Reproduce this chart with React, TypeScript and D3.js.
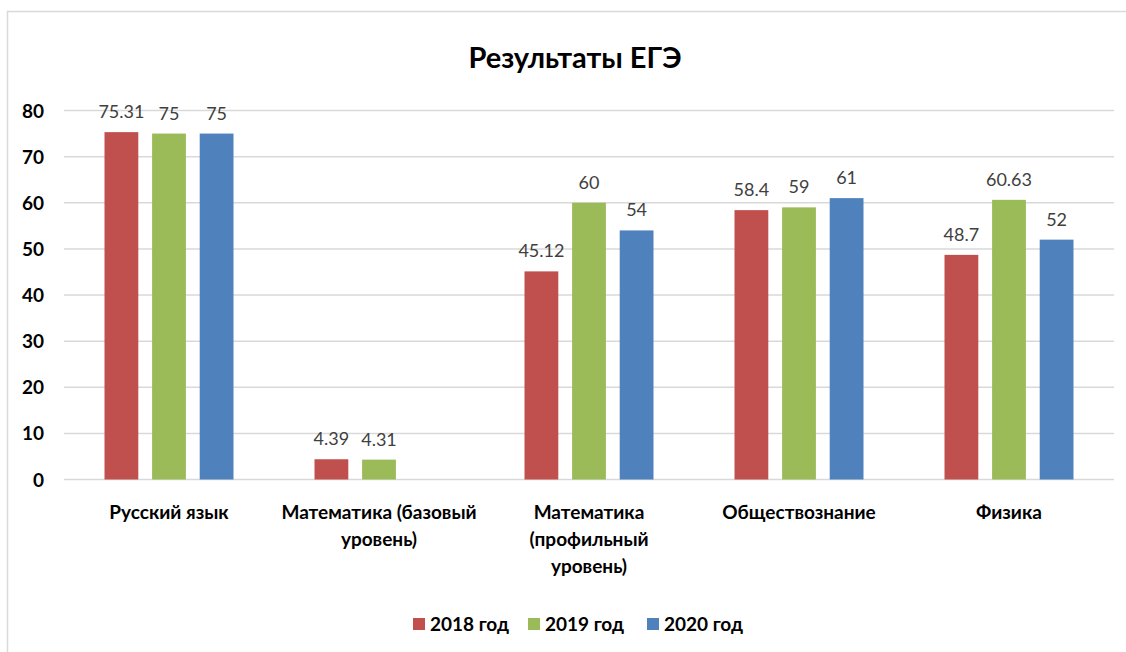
import React from "react";
import * as d3 from "d3";

const categories = [
  ["Русский язык"],
  ["Математика (базовый", "уровень)"],
  ["Математика", "(профильный", "уровень)"],
  ["Обществознание"],
  ["Физика"],
];
const series = ["2018 год", "2019 год", "2020 год"];
const colors = ["#C0504D", "#9BBB59", "#4F81BD"];
const values2018 = [75.31, 4.39, 45.12, 58.4, 48.7];
const values2019 = [75, 4.31, 60, 59, 60.63];
const values2020: (number | null)[] = [75, null, 54, 61, 52];
const yTicks = [0, 10, 20, 30, 40, 50, 60, 70, 80];

const W = 1126;
const H = 652;
const font = "Lato, 'Open Sans', sans-serif";

export default function App() {
  const left = 64, right = 1114, top = 110.5, bottom = 479.5;
  const y = d3.scaleLinear().domain([0, 80]).range([bottom, top]);
  const x0 = d3.scaleBand<number>().domain(d3.range(categories.length)).range([left, right]).paddingInner(0).paddingOuter(0);
  const groupW = 129;
  const x1 = d3.scaleBand<number>().domain([0, 1, 2]).range([0, groupW]).paddingInner(0.29);
  const all = [values2018, values2019, values2020];
  return (
    <svg width={W} height={H} style={{ position: "absolute", left: 0, top: 0 }}>
      <rect x={0} y={0} width={W} height={H} fill="#fff" />
      <path d={`M7.5,${H} V11.5 H${W}`} fill="none" stroke="#d9d9d9" strokeWidth={1.5} />
      <text x={575} y={68} textAnchor="middle" fontFamily={font} fontWeight="bold" fontSize={29} fill="#000">Результаты ЕГЭ</text>
      {yTicks.map((t) => (
        <g key={t}>
          <line x1={left} x2={right} y1={y(t)} y2={y(t)} stroke="#d9d9d9" strokeWidth={1.5} />
          <text x={44} y={y(t) + 7} textAnchor="end" fontFamily={font} fontWeight="bold" fontSize={19} fill="#000">{t}</text>
        </g>
      ))}
      {categories.map((c, i) => {
        const gx = (x0(i) as number) + (x0.bandwidth() - groupW) / 2;
        return (
          <g key={i}>
            {all.map((vals, s) => {
              const v = vals[i];
              if (v == null) return null;
              const bx = gx + (x1(s) as number);
              return (
                <g key={s}>
                  <rect x={bx} y={y(v)} width={x1.bandwidth()} height={bottom - y(v)} fill={colors[s]} />
                  <text x={bx + x1.bandwidth() / 2} y={y(v) - 14} textAnchor="middle" fontFamily={font} fontSize={18} fill="#404040">{v}</text>
                </g>
              );
            })}
            {c.map((line, li) => (
              <text key={li} x={(x0(i) as number) + x0.bandwidth() / 2} y={519 + li * 27} textAnchor="middle" fontFamily={font} fontWeight="bold" fontSize={19} fill="#000">{line}</text>
            ))}
          </g>
        );
      })}
      {series.map((s, i) => {
        const lx = [413, 528, 647][i];
        return (
          <g key={s}>
            <rect x={lx} y={618} width={12} height={12} fill={colors[i]} />
            <text x={lx + 17} y={631} fontFamily={font} fontWeight="bold" fontSize={19} fill="#000">{s}</text>
          </g>
        );
      })}
    </svg>
  );
}
